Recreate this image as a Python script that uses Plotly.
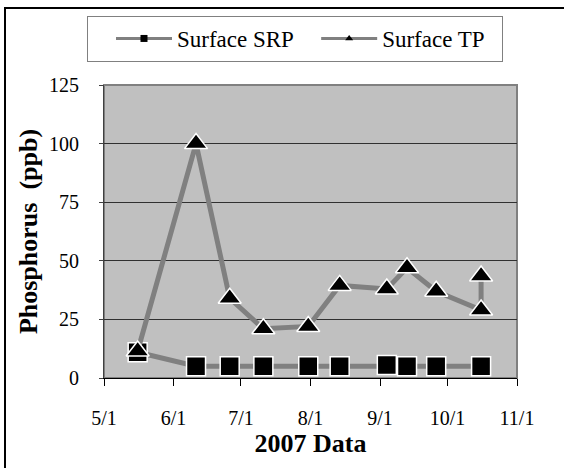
import plotly.graph_objects as go

# ---- data ----
tp_dates = ['2007-05-16', '2007-06-11', '2007-06-26', '2007-07-11', '2007-07-31',
            '2007-08-14', '2007-09-04', '2007-09-13', '2007-09-26', '2007-10-16', '2007-10-16']
tp_values = [11.5, 100, 34, 21, 22, 39.5, 38, 47, 37, 29, 43.5]

srp_dates = ['2007-05-16', '2007-06-11', '2007-06-26', '2007-07-11', '2007-07-31',
             '2007-08-14', '2007-09-04', '2007-09-13', '2007-09-26', '2007-10-16']
srp_values = [11, 5, 5, 5, 5, 5, 5.5, 5, 5, 5]

x_tick_vals = ['2007-05-01', '2007-06-01', '2007-07-01', '2007-08-01',
               '2007-09-01', '2007-10-01', '2007-11-01']
x_tick_text = ['5/1', '6/1', '7/1', '8/1', '9/1', '10/1', '11/1']
y_tick_vals = [0, 25, 50, 75, 100, 125]

series_names = ['Surface SRP', 'Surface TP']

FONT = 'Liberation Serif, Times New Roman, serif'
LINE_GRAY = '#808080'
NBSP = '\u00a0'

fig = go.Figure()

# main traces (not in legend)
fig.add_trace(go.Scatter(
    x=srp_dates, y=srp_values, mode='lines+markers', showlegend=False,
    line=dict(color=LINE_GRAY, width=5),
    marker=dict(symbol='square', size=19, color='black', line=dict(color='white', width=1.5)),
))
fig.add_trace(go.Scatter(
    x=tp_dates, y=tp_values, mode='lines+markers', showlegend=False,
    line=dict(color=LINE_GRAY, width=5),
    marker=dict(symbol='triangle-up', size=20, color='black', line=dict(color='white', width=1.5)),
))

# legend entries with small markers
fig.add_trace(go.Scatter(
    x=[None], y=[None], mode='lines+markers', name=series_names[0] + NBSP * 3,
    line=dict(color=LINE_GRAY, width=3),
    marker=dict(symbol='square', size=7, color='black'),
))
fig.add_trace(go.Scatter(
    x=[None], y=[None], mode='lines+markers', name=series_names[1] + NBSP * 2,
    line=dict(color=LINE_GRAY, width=3),
    marker=dict(symbol='triangle-up', size=7, color='black'),
))

# plot area / outer frame geometry (paper units)
L, R, T, B = 104, 517, 85, 378
W, H = R - L, B - T
def px(xp):
    return (xp - L) / W
def py(yp):
    return (B - yp) / H

fig.update_layout(
    width=564, height=468,
    margin=dict(l=L, r=564 - R, t=T, b=468 - B, autoexpand=False),
    paper_bgcolor='white',
    plot_bgcolor='#C0C0C0',
    font=dict(family=FONT, color='black', size=20),
    showlegend=True,
    legend=dict(
        orientation='h', x=px(87), y=py(16), xanchor='left', yanchor='top',
        bgcolor='white', bordercolor=LINE_GRAY, borderwidth=1,
        font=dict(family=FONT, size=23, color='black'),
        itemwidth=56,
        title=dict(text=NBSP * 2, side='left', font=dict(family=FONT, size=26)),
    ),
    xaxis=dict(
        type='date', range=['2007-05-01', '2007-11-01'], automargin=False,
        tickmode='array', tickvals=x_tick_vals, ticktext=x_tick_text,
        showgrid=False, zeroline=False,
        showline=True, linecolor='black', linewidth=1,
        ticks='outside', ticklen=7, tickcolor='black', tickwidth=1,
        ticklabelstandoff=15,
        tickfont=dict(family=FONT, size=20, color='black'),
        title=dict(text='2007 Data', font=dict(family=FONT, size=26, color='black', weight='bold'),
                   standoff=3),
    ),
    yaxis=dict(
        range=[0, 125], tickmode='array', tickvals=y_tick_vals, automargin=False,
        showgrid=True, gridcolor='#303030', gridwidth=1, zeroline=False,
        showline=True, linecolor='#404040', linewidth=1,
        ticks='outside', ticklen=4, tickcolor='#404040', tickwidth=1,
        ticklabelstandoff=16,
        tickfont=dict(family=FONT, size=20, color='black'),
        title=dict(text='Phosphorus  (ppb)', font=dict(family=FONT, size=26, color='black', weight='bold'),
                   standoff=3),
    ),
    shapes=[
        dict(type='rect', xref='paper', yref='paper', x0=0, x1=1, y0=0, y1=1,
             line=dict(color=LINE_GRAY, width=2), layer='below'),
        # outer frame (left and top edges; right/bottom lie outside the picture)
        dict(type='line', xref='paper', yref='paper', x0=px(5), x1=px(5), y0=py(468), y1=py(7),
             line=dict(color='black', width=2), layer='above'),
        dict(type='line', xref='paper', yref='paper', x0=px(4), x1=px(564), y0=py(8), y1=py(8),
             line=dict(color='black', width=2), layer='above'),
    ],
)

fig.write_html('out.html', config={'displayModeBar': False},
               post_script="document.body.style.margin='0';document.body.style.overflow='hidden';")
